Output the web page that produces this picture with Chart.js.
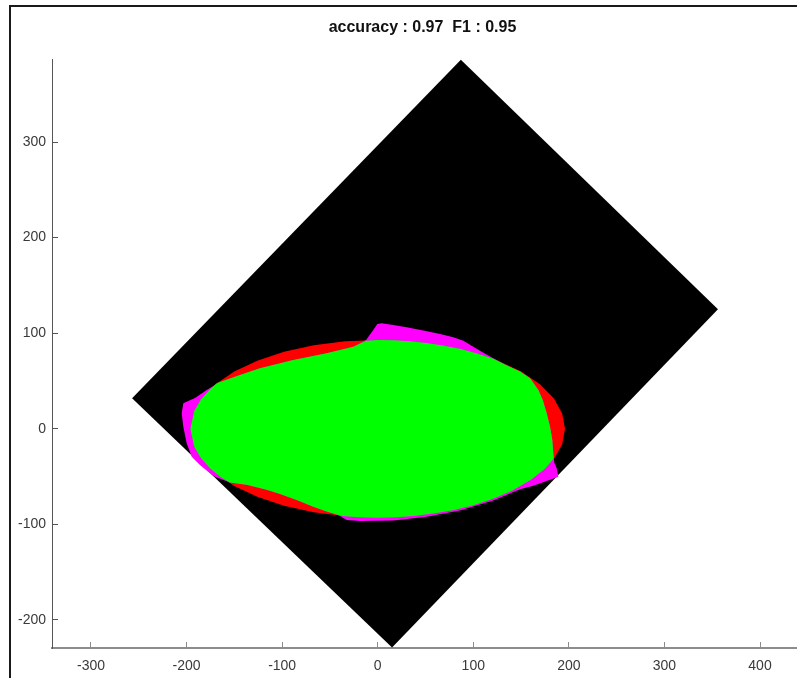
<!DOCTYPE html>
<html>
<head>
<meta charset="utf-8">
<script src="https://cdn.jsdelivr.net/npm/chart.js@4.4.1/dist/chart.umd.min.js"></script>
<style>
  html, body { margin: 0; padding: 0; background: #fff; overflow: hidden; }
  #frame {
    position: absolute; left: 9px; top: 5px; width: 786px; height: 671px;
    border-left: 2px solid #1a1a1a; border-top: 2px solid #1a1a1a;
  }
  #wrap { position: absolute; left: 0; top: 0; width: 797px; height: 678px; }
</style>
</head>
<body>
<div id="frame"></div>
<div id="wrap"><canvas id="chart"></canvas></div>
<script>
const titleText = "accuracy : 0.97  F1 : 0.95";

const xTicks = [-300, -200, -100, 0, 100, 200, 300, 400];
const yTicks = [-200, -100, 0, 100, 200, 300];

// rotated image frame (black)
const rectX = [87, 356, 15, -257];
const rectY = [386, 125, -229, 32];

// ground truth ellipse (red)
const truthX = [196, 193, 184.2, 169.7, 150.1, 126, 98, 67, 34, 0, -34, -67, -98, -126, -150.1, -169.7, -184.2, -193, -196,
  -193, -184.2, -169.7, -150.1, -126, -98, -67, -34, 0, 34, 67, 98, 126, 150.1, 169.7, 184.2, 193];
const truthY = [0, 16.1, 31.8, 46.5, 59.8, 71.2, 80.5, 87.4, 91.6, 93, 91.6, 87.4, 80.5, 71.2, 59.8, 46.5, 31.8, 16.1, 0,
  -16.1, -31.8, -46.5, -59.8, -71.2, -80.5, -87.4, -91.6, -93, -91.6, -87.4, -80.5, -71.2, -59.8, -46.5, -31.8, -16.1];

// predicted region (magenta where outside the truth)
const predX = [-12.2, -4.6, -0.4, 4.2, 16.3, 30.3, 47.7, 65.2, 79.1, 89.6, 100, 110.5, 121, 134, 148.9, 159.4, 168.1, 172.7,
  176.8, 180.3, 182.7, 183.7, 184.8, 187.3, 189, 180.3, 162.8, 148.9, 121, 86.1, 51.3, 16.3, -18.5, -32.4, -41.2, -53.4,
  -67.4, -84.8, -102.2, -116.2, -137.1, -154.6, -170.2, -175.5, -186, -194.6, -199.9, -203.4, -205.1, -203.4, -191.2,
  -178.9, -165, -144.1, -123.2, -88.3, -53.4, -25.5];
const predY = [92.9, 103.4, 109.7, 110.4, 108.6, 106.2, 102.7, 99.2, 95.7, 92.2, 85.9, 79.6, 73.8, 66.7, 59.8, 52.8, 40.6, 30.1,
  16.2, 2.2, -11.7, -25.6, -35.5, -41.3, -50.1, -53.4, -59.7, -63.3, -75, -85.5, -92, -96, -96.5, -95.5, -90.2, -86.7,
  -81.5, -74.5, -68.2, -63.9, -58.7, -56.3, -50.1, -46.6, -37.9, -29.2, -15.2, 2.2, 16.2, 26.7, 32.2,
  40.6, 49, 56.3, 63.3, 72, 79, 85.9];

// overlap of truth and prediction (green)
const overlapX = [-12.2, 0, 17, 34, 51, 68, 86, 103, 121, 134, 148.9, 159.4, 168.1, 172.7, 176.8, 180.3, 182.7, 183.7, 184.3,
  175, 160, 140, 120, 100, 80, 60, 40, 20, 0, -20, -37, -41.2, -53.4, -67.4, -84.8, -102.2, -116.2, -137.1, -154.6, -163,
  -175, -185, -192, -196, -192, -185, -175, -168, -144.1, -123.2, -88.3, -53.4, -25.5];
const overlapY = [92.2, 93, 92.6, 91.6, 89.8, 87.2, 83.6, 79.1, 73.2, 66.7, 59.8, 52.8, 40.6, 30.1, 16.2, 2.2, -11.7, -25.6, -31,
  -41.9, -53.7, -65.1, -73.5, -80, -84.9, -88.5, -91, -92.5, -93, -92.5, -91.3, -90.2, -86.7, -81.5, -74.5, -68.2, -63.9, -58.7, -56.3, -51.6,
  -41.9, -30.7, -18.7, 0, 18.7, 30.7, 41.9, 47.9, 56.3, 63.3, 72, 79, 85.9];

const toPoints = (xs, ys) => xs.map((x, i) => ({ x: x, y: ys[i] }));

const shape = (label, xs, ys, color, order) => ({
  label: label,
  data: toPoints(xs, ys),
  showLine: true,
  fill: "shape",
  backgroundColor: color,
  borderColor: "rgba(0,0,0,0)",
  borderWidth: 0,
  pointRadius: 0,
  tension: 0,
  order: order,
});

const tickFont = { family: "Liberation Sans", size: 14 };

const config = {
  type: "scatter",
  data: {
    datasets: [
      shape("overlap", overlapX, overlapY, "#00ff00", 0),
      shape("prediction", predX, predY, "#ff00ff", 1),
      shape("truth", truthX, truthY, "#ff0000", 2),
      shape("image", rectX, rectY, "#000000", 3),
    ],
  },
  options: {
    responsive: true,
    maintainAspectRatio: false,
    animation: false,
    events: [],
    // title is centred over the full (cropped) axes, not the window
    layout: { padding: { left: 0, right: -48, top: 0, bottom: 0 } },
    plugins: {
      legend: { display: false },
      tooltip: { enabled: false },
      title: {
        display: true,
        text: titleText,
        color: "#111",
        font: { family: "Liberation Sans", size: 16, weight: "bold" },
        padding: { top: 18, bottom: 22 },
      },
    },
    scales: {
      x: {
        type: "linear",
        min: -340.8,
        max: 438.7,
        afterFit: (scale) => { scale.height = 30; },
        afterBuildTicks: (scale) => { scale.ticks = xTicks.map((v) => ({ value: v })); },
        grid: { drawOnChartArea: false, drawTicks: true, tickLength: -6, color: "#8c8c8c", lineWidth: 1 },
        border: { display: true, color: "#8c8c8c", width: 2 },
        ticks: { color: "#3a3a3a", font: tickFont, padding: 16, maxRotation: 0, callback: (v) => String(v) },
      },
      y: {
        type: "linear",
        min: -229.4,
        max: 386.7,
        afterFit: (scale) => { scale.width = 52; },
        afterBuildTicks: (scale) => { scale.ticks = yTicks.map((v) => ({ value: v })); },
        grid: { drawOnChartArea: false, drawTicks: true, tickLength: -6, color: "#555", lineWidth: 1 },
        border: { display: true, color: "#555", width: 1 },
        ticks: { color: "#3a3a3a", font: tickFont, padding: 12, callback: (v) => String(v) },
      },
    },
  },
};

const myChart = new Chart(document.getElementById("chart"), config);
</script>
</body>
</html>
